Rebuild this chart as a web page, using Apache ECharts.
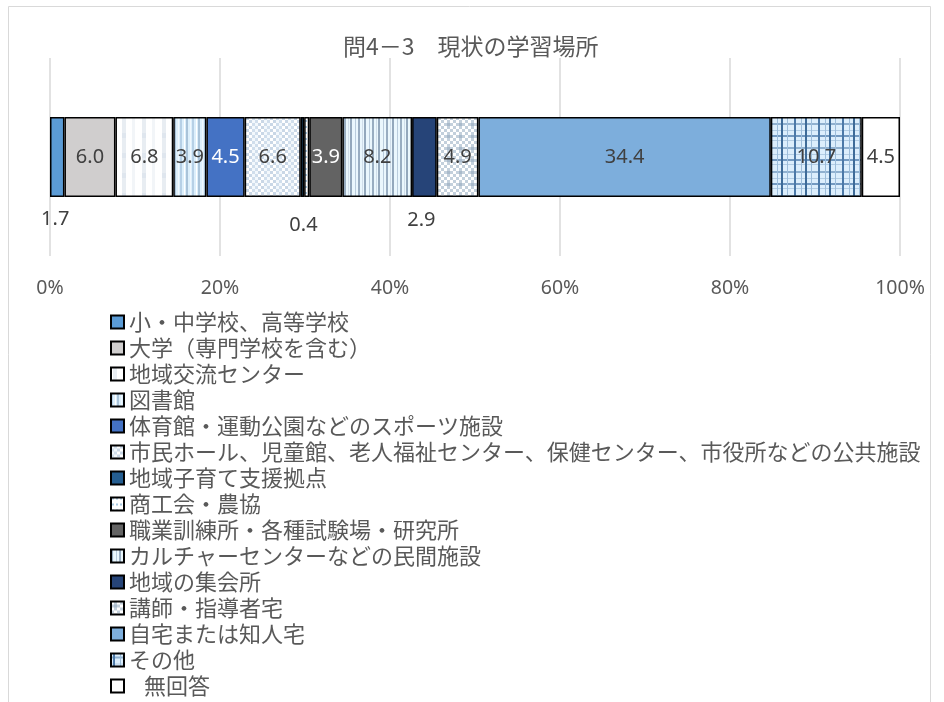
<!DOCTYPE html>
<html>
<head>
<meta charset="utf-8">
<script src="https://cdn.jsdelivr.net/npm/echarts@6/dist/echarts.min.js"></script>
<style>
  html, body { margin: 0; padding: 0; background: #ffffff; }
  #chart { width: 944px; height: 702px; }
</style>
</head>
<body>
<div id="chart"></div>
<script>
// Survey question 4-3: where respondents currently study (share of answers, %)
const chartTitle = '問4－3　現状の学習場所';
const categories = ['現状の学習場所'];
const places = [
  '小・中学校、高等学校',
  '大学（専門学校を含む）',
  '地域交流センター',
  '図書館',
  '体育館・運動公園などのスポーツ施設',
  '市民ホール、児童館、老人福祉センター、保健センター、市役所などの公共施設',
  '地域子育て支援拠点',
  '商工会・農協',
  '職業訓練所・各種試験場・研究所',
  'カルチャーセンターなどの民間施設',
  '地域の集会所',
  '講師・指導者宅',
  '自宅または知人宅',
  'その他',
  '無回答'
];
const shares = [1.7, 6.0, 6.8, 3.9, 4.5, 6.6, 0.4, 0.6, 3.9, 8.2, 2.9, 4.9, 34.4, 10.7, 4.5];
const tickValues = [0, 20, 40, 60, 80, 100];
const tickLabels = ['0%', '20%', '40%', '60%', '80%', '100%'];

// ---- fill patterns -------------------------------------------------------
function tile(w, h, draw) {
  const c = document.createElement('canvas');
  c.width = w; c.height = h;
  const g = c.getContext('2d');
  draw(g);
  return { image: c, repeat: 'repeat' };
}
function box(g, color, x, y, w, h) { g.fillStyle = color; g.fillRect(x, y, w, h); }
function checker(g, size, w, h, a, b) {
  for (let y = 0; y < h; y += size) {
    for (let x = 0; x < w; x += size) {
      box(g, ((x + y) / size) % 2 === 0 ? a : b, x, y, size, size);
    }
  }
}

const fills = [
  '#5B9BD5',
  '#D0CECE',
  tile(20, 20, g => {           // pale vertical wash
    box(g, '#FFFFFF', 0, 0, 20, 20);
    box(g, '#E8EDF2', 2, 0, 4, 20);
    box(g, '#F2F5F8', 12, 0, 3, 20);
    box(g, '#DFE6EE', 2, 13, 4, 5);
  }),
  tile(12, 12, g => {           // light blue with vertical lines
    box(g, '#DCEFFB', 0, 0, 12, 12);
    box(g, '#B6D0E6', 0, 0, 2, 12);
    box(g, '#FFFFFF', 4, 0, 1, 12);
    box(g, '#A9C3D9', 6, 0, 2, 12);
    box(g, '#F0F8FE', 10, 0, 1, 12);
  }),
  '#4472C4',
  tile(12, 12, g => {           // small checks
    checker(g, 3, 12, 12, '#FFFFFF', '#C9D7E6');
    g.globalAlpha = 0.35;
    box(g, '#DDEBF7', 0, 0, 6, 12);
    g.globalAlpha = 1;
  }),
  '#255E91',
  tile(4, 6, g => {             // dashed white
    box(g, '#FFFFFF', 0, 0, 4, 6);
    box(g, '#A8C8E0', 1, 0, 2, 2);
  }),
  '#636363',
  tile(14, 4, g => {            // vertical stripes
    box(g, '#EAF7FD', 0, 0, 14, 4);
    box(g, '#93A8BC', 0, 0, 2, 4);
    box(g, '#B9CCDC', 5, 0, 1, 4);
    box(g, '#98ADC1', 8, 0, 2, 4);
    box(g, '#D0DEEA', 12, 0, 1, 4);
  }),
  '#264478',
  tile(12, 12, g => {           // grey-blue checks
    checker(g, 3, 12, 12, '#FFFFFF', '#C3D0DC');
    box(g, '#A9BACB', 3, 3, 3, 3);
  }),
  '#7DAEDC',
  tile(24, 24, g => {           // plaid
    box(g, '#DCEEFC', 0, 0, 24, 24);
    box(g, '#8FB0CF', 0, 3, 24, 2);
    box(g, '#B3CDE4', 0, 10, 24, 1);
    box(g, '#7399C0', 0, 15, 24, 2);
    box(g, '#B3CDE4', 0, 20, 24, 1);
    box(g, '#4C79A8', 2, 0, 2, 24);
    box(g, '#9DBDDA', 9, 0, 1, 24);
    box(g, '#3E6B98', 13, 0, 2, 24);
    box(g, '#9DBDDA', 19, 0, 1, 24);
  }),
  '#FFFFFF'
];

// label placement for the narrow segments; white text on dark fills
const labelTweaks = {
  0: { position: 'bottom', offset: [-2, 7] },
  4: { color: '#FFFFFF' },
  6: { position: 'bottom', offset: [1, 13] },
  7: { show: false },
  8: { color: '#FFFFFF' },
  10: { position: 'bottom', offset: [-3, 8] }
};

const series = places.map((name, i) => ({
  name: name,
  type: 'bar',
  stack: 'total',
  barWidth: 80,
  data: [shares[i]],
  itemStyle: { color: fills[i], borderColor: '#000000', borderWidth: 1.5 },
  label: Object.assign({
    show: true,
    position: 'inside',
    color: '#404040',
    fontSize: 20,
    fontFamily: 'Noto Sans',
    formatter: p => p.value.toFixed(1)
  }, labelTweaks[i] || {}),
  emphasis: { disabled: true }
}));

const chart = echarts.init(document.getElementById('chart'), null, { renderer: 'canvas' });
chart.setOption({
  animation: false,
  backgroundColor: '#FFFFFF',
  title: {
    text: chartTitle,
    left: 338,
    top: 30,
    textStyle: { fontSize: 23, fontWeight: 'normal', color: '#595959', fontFamily: 'Noto Sans CJK JP' }
  },
  graphic: [{
    type: 'rect',
    shape: { x: 8.5, y: 6.5, width: 922, height: 720 },
    style: { fill: 'none', stroke: '#D9D9D9', lineWidth: 1 },
    silent: true
  }],
  grid: { left: 50, right: 44, top: 58, height: 198 },
  xAxis: {
    type: 'value',
    min: 0,
    max: 100,
    interval: 20,
    axisLine: { show: false },
    axisTick: { show: false },
    splitLine: { lineStyle: { color: '#D9D9D9', width: 1.5 } },
    axisLabel: {
      color: '#595959',
      fontSize: 19.5,
      fontFamily: 'Noto Sans',
      margin: 22,
      formatter: v => tickLabels[tickValues.indexOf(v)]
    }
  },
  yAxis: {
    type: 'category',
    data: categories,
    show: false
  },
  legend: {
    orient: 'vertical',
    left: 110,
    top: 309,
    height: 392,
    padding: 0,
    icon: 'rect',
    itemWidth: 13,
    itemHeight: 13,
    itemGap: 0,
    selectedMode: false,
    data: places,
    formatter: name => name === '無回答' ? '{pad|}' + name : name,
    textStyle: {
      fontSize: 22,
      lineHeight: 26,
      color: '#595959',
      fontFamily: 'Noto Sans CJK JP',
      rich: { pad: { width: 15, lineHeight: 26 } }
    }
  },
  series: series
});
</script>
</body>
</html>
